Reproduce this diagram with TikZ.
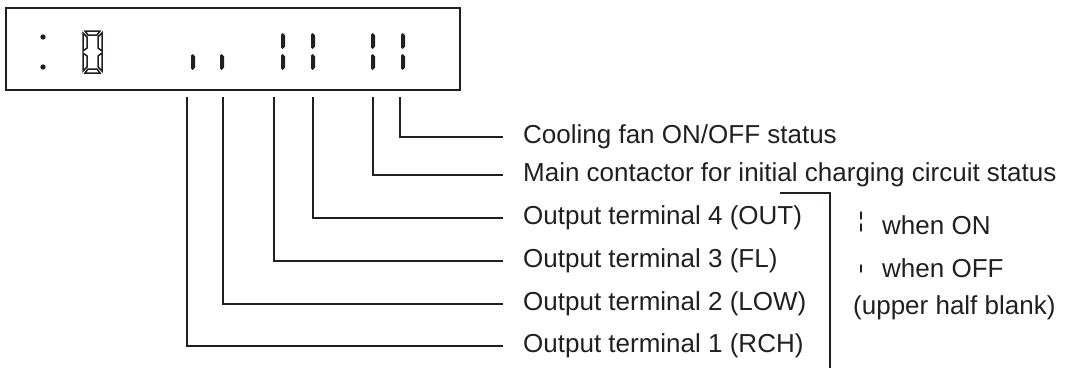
\documentclass[tikz,border=0pt]{standalone}
\usepackage{fontspec}
\usepackage{tikz}
\usetikzlibrary{positioning}
\newfontfamily\lblfont{Liberation Sans}
\definecolor{inkgray}{RGB}{35,31,32}

% one lit bar of the display: x, top y, bottom y
\newcommand{\litbar}[3]{%
  \fill[inkgray] (#1-2,#2+1.5) -- (#1-0.2,#2) -- (#1+2,#2+2.5) --
    (#1+2,#3-2.5) -- (#1-0.2,#3) -- (#1-2,#3-1.5) -- cycle;}
% small bar for the legend
\newcommand{\tinybar}[3]{%
  \fill[inkgray] (#1-0.9,#2+1) -- (#1,#2) -- (#1+0.9,#2+1.5) --
    (#1+0.9,#3-1.5) -- (#1,#3) -- (#1-0.9,#3-1) -- cycle;}

\begin{document}
\begin{tikzpicture}[
  x=1pt, y=-1pt,
  lbl/.style   = {anchor=west, inner xsep=20pt, inner ysep=0pt,
                  font=\lblfont\fontsize{26}{30}\selectfont, text=inkgray},
  note/.style  = {anchor=west, inner sep=0pt,
                  font=\lblfont\fontsize{26}{30}\selectfont, text=inkgray},
  lead/.style  = {line width=2pt, color=inkgray},
  panel/.style = {line width=2.2pt, color=inkgray},
  digseg/.style = {line width=1.5pt, color=inkgray, line join=miter},
]
\useasboundingbox (0,0) rectangle (1066,370);

%% Display window
\draw[panel] (6,8) rectangle (460,90);
\fill[inkgray] (43,37) circle (2.7);
\fill[inkgray] (43,67) circle (2.7);

%% Digit 0 (outlined segments)
\draw[digseg] (85,31) -- (100,31) -- (97,35) -- (88,35) -- cycle;
\draw[digseg] (85,73) -- (100,73) -- (97,69) -- (88,69) -- cycle;
\draw[digseg] (83,33) -- (87,37) -- (87,48) -- (83,51) -- cycle;
\draw[digseg] (83,53) -- (87,56) -- (87,67) -- (83,71) -- cycle;
\draw[digseg] (102,33) -- (98,37) -- (98,48) -- (102,51) -- cycle;
\draw[digseg] (102,53) -- (98,56) -- (98,67) -- (102,71) -- cycle;

%% Status bars
\foreach \x in {193, 222, 283, 313, 373, 403} {
  \litbar{\x}{54}{70}
}
\foreach \x in {283, 313, 373, 403} {
  \litbar{\x}{33}{49}
}

%% Tap points under the display
\coordinate (tRch)  at (187,97);
\coordinate (tLow)  at (223,97);
\coordinate (tFl)   at (274,97);
\coordinate (tOut)  at (313,97);
\coordinate (tMain) at (373,97);
\coordinate (tFan)  at (400,97);

%% Labels
\node[lbl] (fan)  at (503,137) {Cooling fan ON/OFF status};
\node[lbl] (main) at (503,175) {Main contactor for initial charging circuit status};
\node[lbl] (out)  at (503,218) {Output terminal 4 (OUT)};
\node[lbl] (fl)   at (503,261) {Output terminal 3 (FL)};
\node[lbl] (low)  at (503,304) {Output terminal 2 (LOW)};
\node[lbl] (rch)  at (503,346) {Output terminal 1 (RCH)};

%% Leaders
\foreach \t/\n in {tFan/fan, tMain/main, tOut/out, tFl/fl, tLow/low, tRch/rch} {
  \draw[lead] (\t) |- (\n.west);
}

%% Bracket for the four outputs
\coordinate (brTop) at (780,193);
\coordinate (brEnd) at (830,368);
\draw[lead] (brTop) -| (brEnd);

%% Legend
\tinybar{861}{211}{220}
\tinybar{861}{223}{232}
\node[note] (won)  at (882,225) {when ON};
\tinybar{861}{264}{273}
\node[note] (woff) at (882,268) {when OFF};
\node[note] (blank) at (853,308) {(upper half blank)};

\end{tikzpicture}
\end{document}
